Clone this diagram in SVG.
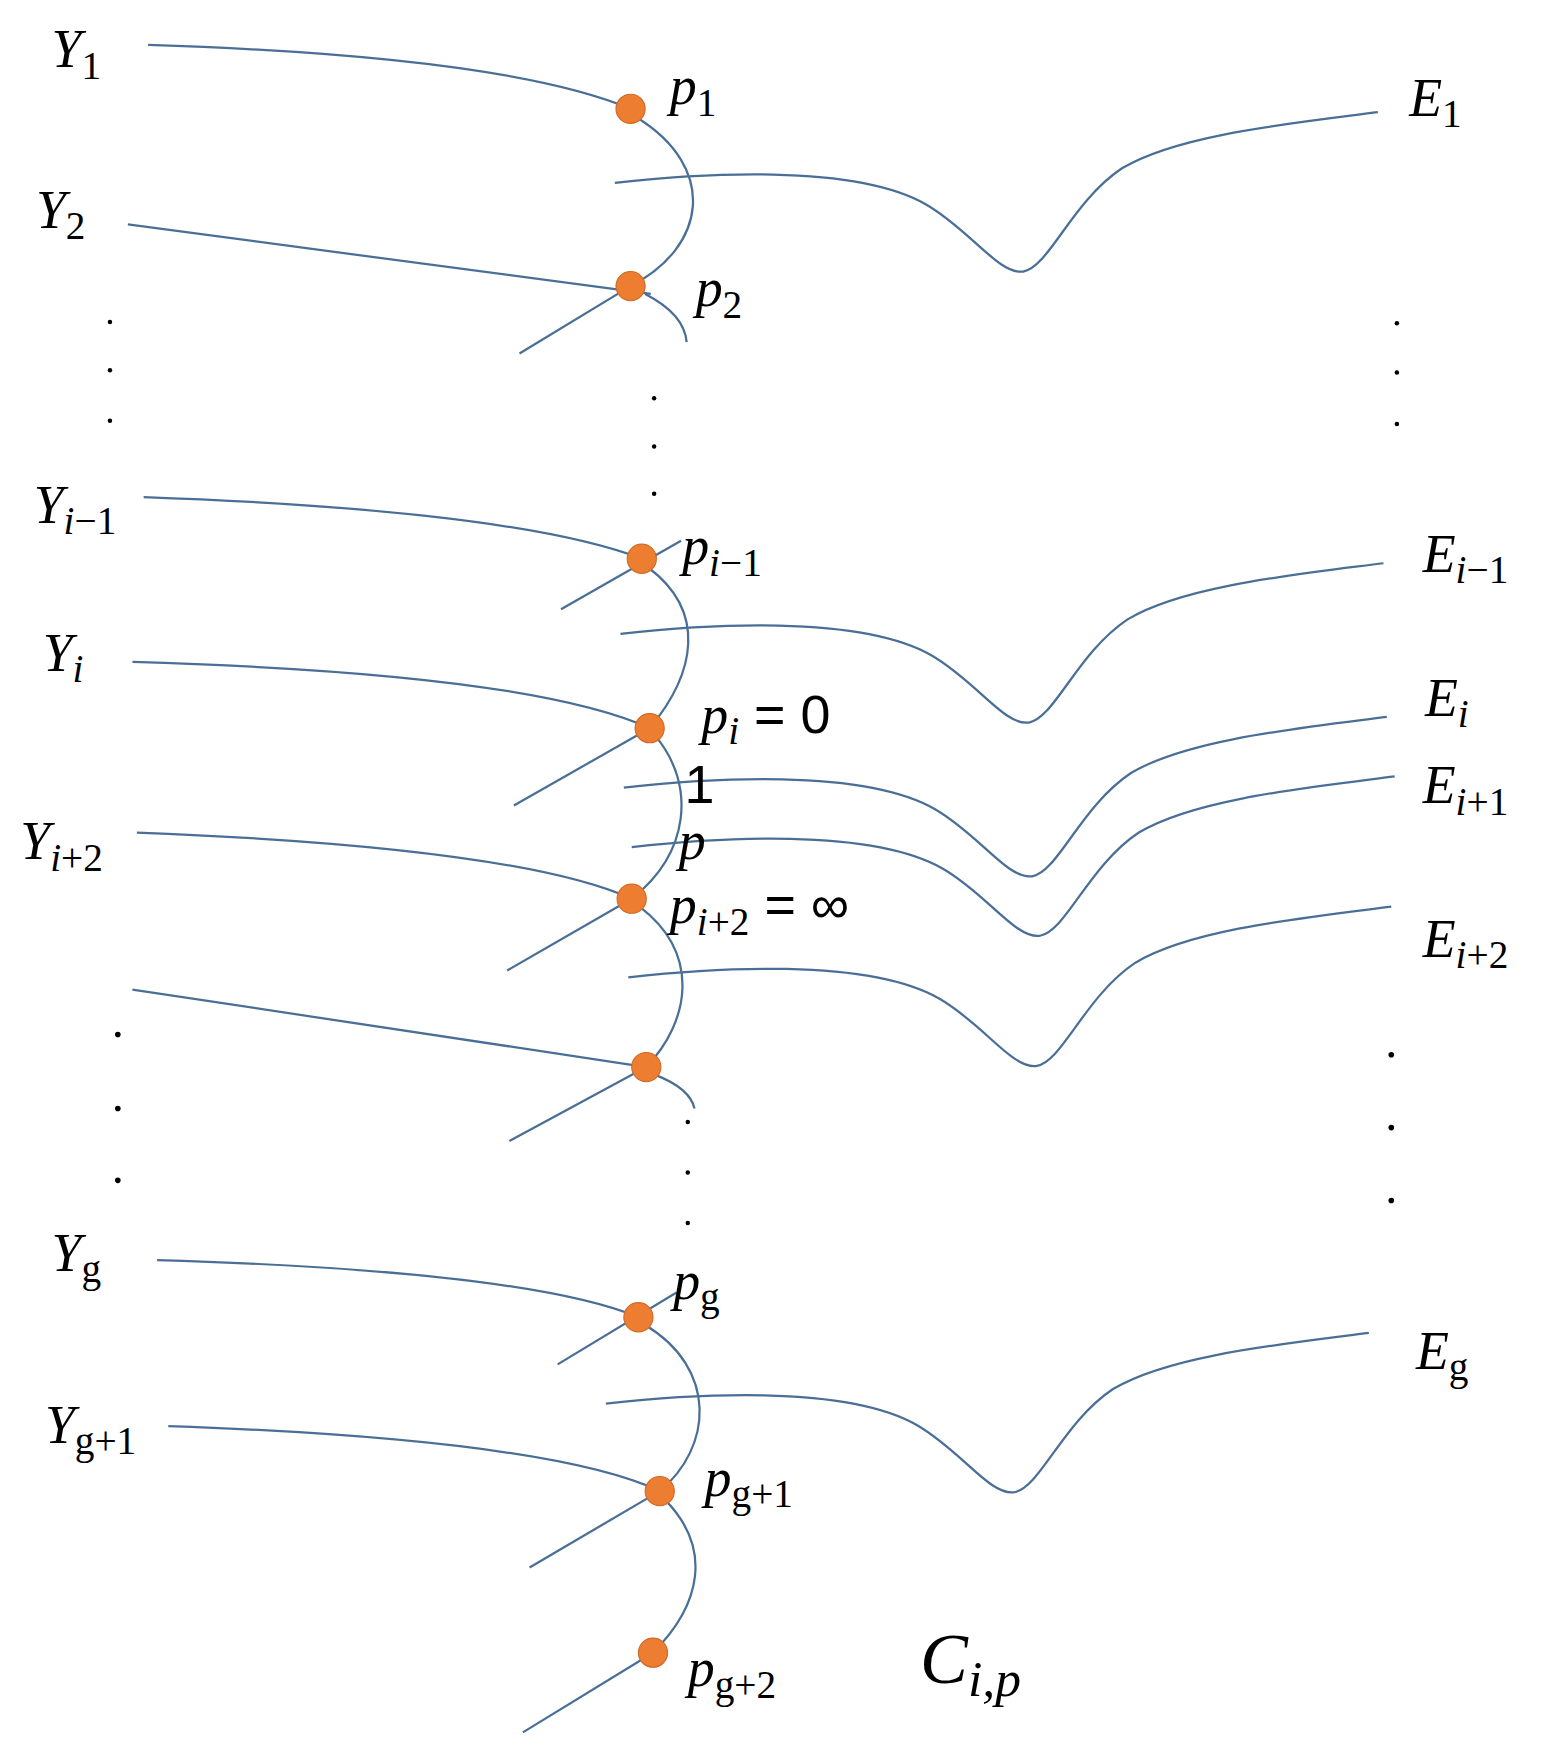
<svg xmlns="http://www.w3.org/2000/svg" width="1548" height="1764" viewBox="0 0 1548 1764">
<style>
.c{fill:none;stroke:#4a6f96;stroke-width:2}
.d{fill:#ed7d31;stroke:#d06a25;stroke-width:1}
.k{fill:#000}
text{font-family:"Liberation Serif",serif;font-size:48px;font-style:italic;fill:#000}
.s{font-size:35px;font-style:normal}
.si{font-size:35px;font-style:italic}
.u{font-style:normal;font-family:"Liberation Sans",sans-serif}
</style>
<defs>
<path id="E" class="c" d="M548,163 C620,155 760,145 825,182 C865,205 890,245 912,242 C935,238 955,180 1000,150 C1050,120 1150,110 1228,100"/>
</defs>
<rect width="1548" height="1764" fill="#fff"/>
<g transform="scale(1.122)">
<g id="connectors">
<path class="c" d="M132,40 Q450,50 562,97"/>
<path class="c" d="M114,200 L580,262"/>
<path class="c" d="M128,443 Q460,455 572,498"/>
<path class="c" d="M118,590 Q470,600 579,649"/>
<path class="c" d="M122,742 Q460,755 563,801"/>
<path class="c" d="M118,882 L576,951"/>
<path class="c" d="M140,1123 Q470,1133 569,1174"/>
<path class="c" d="M150,1271 Q490,1283 588,1329"/>
<path class="c" d="M568,105 C640,150 630,220 562,255"/>
<path class="c" d="M463,315 L562,255"/>
<path class="c" d="M575,262 Q610,280 612,305"/>
<path class="c" d="M500,543 L607,482"/>
<path class="c" d="M578,506 C630,545 620,600 579,649"/>
<path class="c" d="M458,718 L579,649"/>
<path class="c" d="M585,657 C620,700 615,760 563,801"/>
<path class="c" d="M452,865 L563,801"/>
<path class="c" d="M570,808 C625,850 615,910 576,951"/>
<path class="c" d="M454,1017 L576,951"/>
<path class="c" d="M584,958 Q615,970 619,988"/>
<path class="c" d="M497,1216 L603,1152"/>
<path class="c" d="M575,1181 C640,1220 635,1290 588,1329"/>
<path class="c" d="M472,1397 L588,1329"/>
<path class="c" d="M593,1337 C635,1380 625,1430 582,1473"/>
<path class="c" d="M466,1544 L582,1473"/>
<use href="#E"/>
<use href="#E" transform="translate(5,402)"/>
<use href="#E" transform="translate(8,539)"/>
<use href="#E" transform="translate(15,592)"/>
<use href="#E" transform="translate(12,708)"/>
<use href="#E" transform="translate(-8,1088)"/>
</g>
<g id="points">
<circle class="d" cx="562" cy="97" r="13"/>
<circle class="d" cx="562" cy="255" r="13"/>
<circle class="d" cx="572" cy="498" r="13"/>
<circle class="d" cx="579" cy="649" r="13"/>
<circle class="d" cx="563" cy="801" r="13"/>
<circle class="d" cx="576" cy="951" r="13"/>
<circle class="d" cx="569" cy="1174" r="13"/>
<circle class="d" cx="588" cy="1329" r="13"/>
<circle class="d" cx="582" cy="1473" r="13"/>
</g>
<g id="dots">
<circle class="k" cx="98" cy="287" r="2"/><circle class="k" cx="98" cy="330" r="2"/><circle class="k" cx="98" cy="375" r="2"/>
<circle class="k" cx="583" cy="355" r="2"/><circle class="k" cx="583" cy="398" r="2"/><circle class="k" cx="583" cy="440" r="2"/>
<circle class="k" cx="1245" cy="288" r="2"/><circle class="k" cx="1245" cy="332" r="2"/><circle class="k" cx="1245" cy="378" r="2"/>
<circle class="k" cx="105" cy="922" r="2.5"/><circle class="k" cx="105" cy="988" r="2.5"/><circle class="k" cx="105" cy="1052" r="2.5"/>
<circle class="k" cx="613" cy="1000" r="2"/><circle class="k" cx="613" cy="1045" r="2"/><circle class="k" cx="613" cy="1090" r="2"/>
<circle class="k" cx="1240" cy="940" r="2.5"/><circle class="k" cx="1240" cy="1005" r="2.5"/><circle class="k" cx="1240" cy="1070" r="2.5"/>
</g>
<g id="labels">
<text x="46" y="60">Y<tspan class="s" dy="10">1</tspan></text>
<text x="597" y="93">p<tspan class="s" dy="10">1</tspan></text>
<text x="1256" y="103">E<tspan class="s" dy="10">1</tspan></text>
<text x="32" y="203">Y<tspan class="s" dy="10">2</tspan></text>
<text x="620" y="273">p<tspan class="s" dy="10">2</tspan></text>
<text x="30" y="466">Y<tspan class="si" dy="10">i</tspan><tspan class="s">−1</tspan></text>
<text x="608" y="503">p<tspan class="si" dy="10">i</tspan><tspan class="s">−1</tspan></text>
<text x="1268" y="510">E<tspan class="si" dy="10">i</tspan><tspan class="s">−1</tspan></text>
<text x="38" y="598">Y<tspan class="si" dy="10">i</tspan></text>
<text x="625" y="653">p<tspan class="si" dy="10">i</tspan><tspan class="u" dy="-10"> = 0</tspan></text>
<text x="1270" y="638">E<tspan class="si" dy="10">i</tspan></text>
<text x="610" y="716" class="u">1</text>
<text x="605" y="766">p</text>
<text x="1268" y="716">E<tspan class="si" dy="10">i</tspan><tspan class="s">+1</tspan></text>
<text x="18" y="766">Y<tspan class="si" dy="10">i</tspan><tspan class="s">+2</tspan></text>
<text x="597" y="823">p<tspan class="si" dy="10">i</tspan><tspan class="s">+2</tspan><tspan class="u" dy="-10"> = ∞</tspan></text>
<text x="1268" y="853">E<tspan class="si" dy="10">i</tspan><tspan class="s">+2</tspan></text>
<text x="46" y="1133">Y<tspan class="s" dy="10">g</tspan></text>
<text x="600" y="1158">p<tspan class="s" dy="10">g</tspan></text>
<text x="1262" y="1220">E<tspan class="s" dy="10">g</tspan></text>
<text x="40" y="1286">Y<tspan class="s" dy="10">g+1</tspan></text>
<text x="628" y="1333">p<tspan class="s" dy="10">g+1</tspan></text>
<text x="613" y="1503">p<tspan class="s" dy="10">g+2</tspan></text>
<text x="820" y="1500" style="font-size:64px">C<tspan class="si" dy="12" style="font-size:46px">i,p</tspan></text>
</g>
</g>
</svg>
